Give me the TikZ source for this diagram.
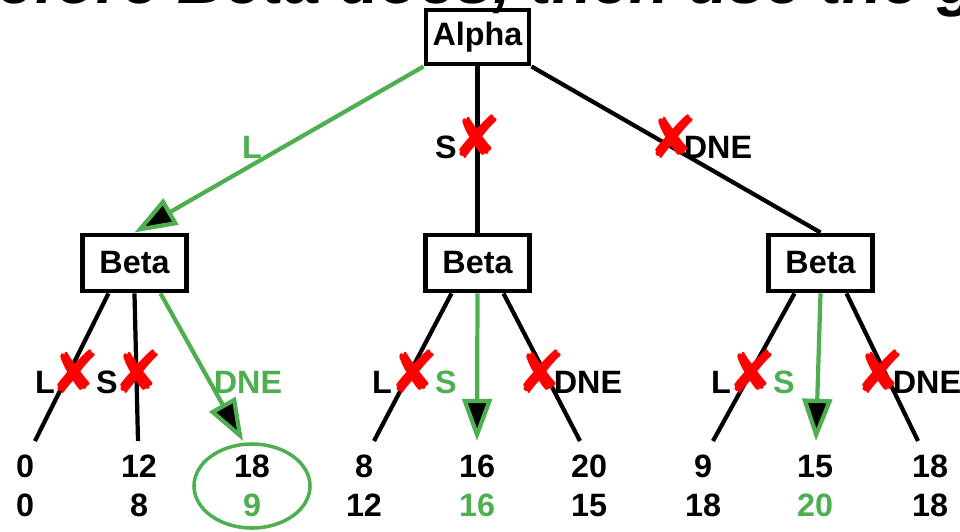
\documentclass[tikz,border=0pt]{standalone}
\usepackage{fontspec}
\setmainfont{Liberation Sans}
\newfontfamily\symfont{DejaVu Sans}
\usetikzlibrary{arrows.meta, positioning}
\definecolor{pathgreen}{RGB}{77,175,80}
\definecolor{cutred}{RGB}{255,0,0}

\begin{document}
\begin{tikzpicture}[
    x=0.025cm, y=-0.025cm,
    >={Triangle[length=30pt, width=21pt, fill=black]},
    box/.style={rectangle, draw=black, fill=white, line width=3.5pt, inner sep=0pt, minimum width=2.6cm, minimum height=1.4cm, font=\bfseries\fontsize{23}{28}\selectfont},
    lbl/.style={inner sep=0pt, anchor=base, font=\bfseries\fontsize{23}{28}\selectfont},
    pay/.style={inner sep=0pt, align=center, font=\bfseries\fontsize{23}{27.7}\selectfont},
    cut/.style={inner sep=0pt, text=cutred, font=\symfont\fontsize{42}{42}\selectfont},
    move/.style={line width=3pt},
    best/.style={line width=3pt, draw=pathgreen, ->}
  ]
    \useasboundingbox (0,0) rectangle (960,532);
    \clip (0,0) rectangle (960,532);

    % players
    \node[box, minimum width=2.575cm, minimum height=1.35cm] (alpha) at (477.5,37) {Alpha};
    \node[box, below=4.15cm of alpha] (betaS) {Beta};
    \node[box, left=5.85cm of betaS] (betaL) {Beta};
    \node[box, right=5.85cm of betaS] (betaD) {Beta};

    % leaf ends
    \coordinate (lL) at (35,441);
    \coordinate (lS) at (138,441);
    \coordinate (lD) at (243,441);
    \coordinate (sL) at (374,441);
    \coordinate (sS) at (477,441);
    \coordinate (sD) at (580,441);
    \coordinate (dL) at (713,441);
    \coordinate (dS) at (816,441);
    \coordinate (dD) at (918,441);

    % Alpha's moves
    \draw[best] (alpha.south west) -- (betaL.north);
    \draw[move] (alpha.south) -- (betaS.north);
    \draw[move] (alpha.south east) -- (betaD.north);

    % Beta's moves
    \draw[move] ([xshift=-0.65cm]betaL.south) -- (lL);
    \draw[move] (betaL.south) -- (lS);
    \draw[best] ([xshift=0.65cm]betaL.south) -- (lD);
    \draw[move] ([xshift=-0.65cm]betaS.south) -- (sL);
    \draw[best] (betaS.south) -- (sS);
    \draw[move] ([xshift=0.65cm]betaS.south) -- (sD);
    \draw[move] ([xshift=-0.65cm]betaD.south) -- (dL);
    \draw[best] (betaD.south) -- (dS);
    \draw[move] ([xshift=0.65cm]betaD.south) -- (dD);

    % move labels
    \node[lbl, text=pathgreen] (aL) at (252,158) {L};
    \node[lbl] (aS) at (446,158) {S};
    \node[lbl] (aD) at (718,158) {DNE};
    \node[lbl] (lLl) at (45,393) {L};
    \node[lbl] (lSl) at (107,393) {S};
    \node[lbl, text=pathgreen] (lDl) at (248,393) {DNE};
    \node[lbl] (sLl) at (382,393) {L};
    \node[lbl, text=pathgreen] (sSl) at (446,393) {S};
    \node[lbl] (sDl) at (588,393) {DNE};
    \node[lbl] (dLl) at (721,393) {L};
    \node[lbl, text=pathgreen] (dSl) at (784,393) {S};
    \node[lbl] (dDl) at (927,393) {DNE};

    % crossed out moves
    \node[cut] (xaS) at (477,137) {✘};
    \node[cut] (xaD) at (673,137) {✘};
    \node[cut] (xlL) at (75,372) {✘};
    \node[cut] (xlS) at (138,372) {✘};
    \node[cut] (xsL) at (414,372) {✘};
    \node[cut] (xsD) at (541,372) {✘};
    \node[cut] (xdL) at (752,372) {✘};
    \node[cut] (xdD) at (880,372) {✘};

    % payoffs
    \node[pay] (pLL) at (25,486) {0\\0};
    \node[pay] (pLS) at (139,486) {12\\8};
    \node[pay] (pLD) at (252,486) {18\\\textcolor{pathgreen}{9}};
    \node[pay] (pSL) at (364,486) {8\\12};
    \node[pay] (pSS) at (477,486) {16\\\textcolor{pathgreen}{16}};
    \node[pay] (pSD) at (589,486) {20\\15};
    \node[pay] (pDL) at (703,486) {9\\18};
    \node[pay] (pDS) at (815,486) {15\\\textcolor{pathgreen}{20}};
    \node[pay] (pDD) at (930,486) {18\\18};
    \draw[pathgreen, line width=2.5pt] (pLD) ellipse [x radius=1.45cm, y radius=1.05cm];

    \node[anchor=base west, inner sep=0pt, font=\bfseries\itshape\fontsize{47}{50}\selectfont] (title) at (-43,4) {before Beta does, then use the game};
  \end{tikzpicture}
\end{document}
